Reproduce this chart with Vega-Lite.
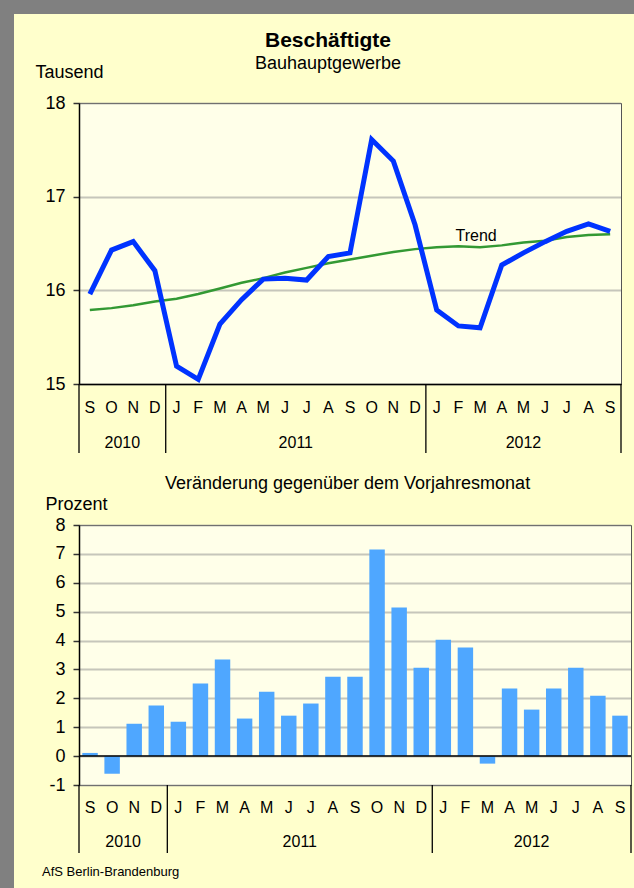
{
  "$schema": "https://vega.github.io/schema/vega-lite/v6.json",
  "background": "#FFFFCC",
  "padding": 0,
  "columns": 3,
  "spacing": 0,
  "bounds": "flush",
  "align": {"row": "each", "column": "none"},
  "datasets": {
    "months": [
      {"m": "2010-09", "lbl": "S", "besch": 15.96, "trend": 15.79, "veraend": 0.11},
      {"m": "2010-10", "lbl": "O", "besch": 16.43, "trend": 15.81, "veraend": -0.61},
      {"m": "2010-11", "lbl": "N", "besch": 16.52, "trend": 15.84, "veraend": 1.12},
      {"m": "2010-12", "lbl": "D", "besch": 16.21, "trend": 15.88, "veraend": 1.75},
      {"m": "2011-01", "lbl": "J", "besch": 15.19, "trend": 15.91, "veraend": 1.19},
      {"m": "2011-02", "lbl": "F", "besch": 15.05, "trend": 15.96, "veraend": 2.51},
      {"m": "2011-03", "lbl": "M", "besch": 15.64, "trend": 16.02, "veraend": 3.34},
      {"m": "2011-04", "lbl": "A", "besch": 15.90, "trend": 16.08, "veraend": 1.30},
      {"m": "2011-05", "lbl": "M", "besch": 16.12, "trend": 16.13, "veraend": 2.23},
      {"m": "2011-06", "lbl": "J", "besch": 16.13, "trend": 16.19, "veraend": 1.40},
      {"m": "2011-07", "lbl": "J", "besch": 16.11, "trend": 16.24, "veraend": 1.82},
      {"m": "2011-08", "lbl": "A", "besch": 16.36, "trend": 16.29, "veraend": 2.75},
      {"m": "2011-09", "lbl": "S", "besch": 16.40, "trend": 16.33, "veraend": 2.75},
      {"m": "2011-10", "lbl": "O", "besch": 17.61, "trend": 16.37, "veraend": 7.15},
      {"m": "2011-11", "lbl": "N", "besch": 17.38, "trend": 16.41, "veraend": 5.14},
      {"m": "2011-12", "lbl": "D", "besch": 16.70, "trend": 16.44, "veraend": 3.06},
      {"m": "2012-01", "lbl": "J", "besch": 15.79, "trend": 16.46, "veraend": 4.03},
      {"m": "2012-02", "lbl": "F", "besch": 15.62, "trend": 16.47, "veraend": 3.76},
      {"m": "2012-03", "lbl": "M", "besch": 15.60, "trend": 16.46, "veraend": -0.26},
      {"m": "2012-04", "lbl": "A", "besch": 16.27, "trend": 16.48, "veraend": 2.34},
      {"m": "2012-05", "lbl": "M", "besch": 16.40, "trend": 16.51, "veraend": 1.61},
      {"m": "2012-06", "lbl": "J", "besch": 16.52, "trend": 16.53, "veraend": 2.34},
      {"m": "2012-07", "lbl": "J", "besch": 16.63, "trend": 16.57, "veraend": 3.06},
      {"m": "2012-08", "lbl": "A", "besch": 16.71, "trend": 16.59, "veraend": 2.09},
      {"m": "2012-09", "lbl": "S", "besch": 16.63, "trend": 16.60, "veraend": 1.40}
    ],
    "years2": [
      {"jahr": "2010", "at": "2010-10"},
      {"jahr": "2011", "at": "2011-06"}
    ],
    "years1": [
      {"jahr": "2012", "at": "2012-05"}
    ],
    "sepLeft": [
      {"at": "2010-09"}, {"at": "2011-01"}, {"at": "2012-01"}
    ],
    "sepRight": [
      {"at": "2012-09"}
    ]
  },
  "config": {
    "font": "Liberation Sans",
    "view": {"stroke": null},
    "title": {"color": "black", "subtitleColor": "black", "font": "Liberation Sans", "subtitleFont": "Liberation Sans"},
    "axis": {
      "labelFont": "Liberation Sans", "titleFont": "Liberation Sans",
      "labelColor": "black", "titleColor": "black",
      "labelFontSize": 18, "titleFontSize": 18, "titleFontWeight": "normal",
      "labelOverlap": false,
      "domainColor": "black", "domainWidth": 1.5,
      "tickColor": "#333333", "tickWidth": 1.5, "tickSize": 6, "labelPadding": 8,
      "gridColor": "#8C8C8C", "gridDash": [1, 1], "gridWidth": 2
    }
  },
  "concat": [
    {"width": 14, "height": 14, "data": {"values": []}, "mark": "rule", "encoding": {}, "view": {"fill": "#808080", "stroke": null}},
    {"width": 65, "height": 14, "data": {"values": []}, "mark": "rule", "encoding": {}, "view": {"fill": "#808080", "stroke": null}},
    {"width": 555, "height": 14, "data": {"values": []}, "mark": "rule", "encoding": {}, "view": {"fill": "#808080", "stroke": null}},

    {"width": 14, "height": 89, "data": {"values": []}, "mark": "rule", "encoding": {}, "view": {"fill": "#808080", "stroke": null}},
    {"width": 65, "height": 89, "data": {"values": []}, "mark": "rule", "encoding": {}, "view": {"stroke": null}},
    {"width": 542, "height": 89, "data": {"values": []}, "mark": "rule", "encoding": {}, "view": {"stroke": null}},

    {"width": 14, "height": 281, "data": {"values": []}, "mark": "rule", "encoding": {}, "view": {"fill": "#808080", "stroke": null}},
    {"width": 65, "height": 281, "data": {"values": []}, "mark": "rule", "encoding": {}, "view": {"stroke": null}},
    {
      "width": 542, "height": 281,
      "view": {"fill": "#FFFFE9", "stroke": "#555555", "strokeWidth": 1},
      "title": {"text": "Beschäftigte", "subtitle": "Bauhauptgewerbe", "anchor": "middle", "frame": "group", "dx": -22, "offset": -10, "fontSize": 21, "fontWeight": "bold", "subtitleFontSize": 18, "subtitlePadding": 4},
      "data": {"name": "months"},
      "encoding": {
        "x": {"field": "m", "type": "nominal", "bandPosition": 0.5,
              "scale": {"type": "band", "paddingInner": 0, "paddingOuter": 0},
              "axis": {"labels": false, "ticks": false, "title": null, "grid": false}}
      },
      "layer": [
        {"mark": {"type": "line", "color": "#339933", "strokeWidth": 2.5},
         "encoding": {"y": {"field": "trend", "type": "quantitative",
           "scale": {"domain": [15, 18], "zero": false, "nice": false},
           "axis": {"values": [15, 16, 17, 18], "labelExpr": "'' + datum.value", "title": "Tausend", "titleAngle": 0, "titleAlign": "left", "titleBaseline": "alphabetic", "titleX": -44, "titleY": -26}}}},
        {"mark": {"type": "line", "color": "#0033FF", "strokeWidth": 5},
         "encoding": {"y": {"field": "besch", "type": "quantitative",
           "scale": {"domain": [15, 18], "zero": false, "nice": false},
           "axis": {"values": [15, 16, 17, 18], "labelExpr": "'' + datum.value", "title": "Tausend", "titleAngle": 0, "titleAlign": "left", "titleBaseline": "alphabetic", "titleX": -44, "titleY": -26}}}},
        {"data": {"values": [{"t": "Trend", "m": "2012-03", "v": 16.53}]},
         "mark": {"type": "text", "fontSize": 16, "baseline": "alphabetic", "align": "center", "dx": -4, "color": "black"},
         "encoding": {"y": {"field": "v", "type": "quantitative",
           "scale": {"domain": [15, 18], "zero": false, "nice": false},
           "axis": {"values": [15, 16, 17, 18], "labelExpr": "'' + datum.value", "title": "Tausend", "titleAngle": 0, "titleAlign": "left", "titleBaseline": "alphabetic", "titleX": -44, "titleY": -26}}, "text": {"field": "t"}}}
      ]
    },

    {"width": 14, "height": 69, "data": {"values": []}, "mark": "rule", "encoding": {}, "view": {"fill": "#808080", "stroke": null}},
    {"width": 65, "height": 69, "data": {"values": []}, "mark": "rule", "encoding": {}, "view": {"stroke": null}},
    {
      "width": 542, "height": 69,
      "view": {"stroke": null},
      "title": {"text": "Veränderung gegenüber dem Vorjahresmonat", "orient": "bottom", "anchor": "middle", "frame": "group", "dx": -2.5, "offset": 21, "fontSize": 18, "fontWeight": "normal"},
      "layer": [
        {"data": {"name": "months"},
         "mark": {"type": "text", "fontSize": 16, "baseline": "middle", "dy": 7, "color": "black"},
         "encoding": {
           "x": {"field": "m", "type": "nominal", "bandPosition": 0.5, "scale": {"type": "band", "paddingInner": 0, "paddingOuter": 0}, "axis": null},
           "y": {"datum": "Monat", "type": "nominal", "bandPosition": 0.5, "scale": {"type": "band", "domain": ["Monat", "Jahr"], "paddingInner": 0, "paddingOuter": 0}, "axis": null},
           "text": {"field": "lbl"}}},
        {"data": {"name": "years2"},
         "mark": {"type": "text", "fontSize": 16, "baseline": "middle", "dy": 7, "color": "black"},
         "encoding": {
           "x": {"field": "at", "type": "nominal", "bandPosition": 1},
           "y": {"datum": "Jahr", "type": "nominal", "bandPosition": 0.5},
           "text": {"field": "jahr"}}},
        {"data": {"name": "years1"},
         "mark": {"type": "text", "fontSize": 16, "baseline": "middle", "dy": 7, "color": "black"},
         "encoding": {
           "x": {"field": "at", "type": "nominal", "bandPosition": 0.5},
           "y": {"datum": "Jahr", "type": "nominal", "bandPosition": 0.5},
           "text": {"field": "jahr"}}},
        {"data": {"name": "sepLeft"},
         "mark": {"type": "rule", "color": "black", "strokeWidth": 1.3},
         "encoding": {"x": {"field": "at", "type": "nominal", "bandPosition": 0}}},
        {"data": {"name": "sepRight"},
         "mark": {"type": "rule", "color": "black", "strokeWidth": 1.3},
         "encoding": {"x": {"field": "at", "type": "nominal", "bandPosition": 1}}}
      ]
    },

    {"width": 14, "height": 72, "data": {"values": []}, "mark": "rule", "encoding": {}, "view": {"fill": "#808080", "stroke": null}},
    {"width": 55, "height": 72, "data": {"values": []}, "mark": "rule", "encoding": {}, "view": {"stroke": null}},
    {"width": 552, "height": 72, "data": {"values": []}, "mark": "rule", "encoding": {}, "view": {"stroke": null}},

    {"width": 14, "height": 260, "data": {"values": []}, "mark": "rule", "encoding": {}, "view": {"fill": "#808080", "stroke": null}},
    {"width": 55, "height": 260, "data": {"values": []}, "mark": "rule", "encoding": {}, "view": {"stroke": null}},
    {
      "width": 552, "height": 260,
      "view": {"fill": "#FFFFE9", "stroke": "#555555", "strokeWidth": 1},
      "layer": [
        {"data": {"name": "months"},
         "mark": {"type": "bar", "color": "#4FA7FF"},
         "encoding": {
           "x": {"field": "m", "type": "nominal", "scale": {"type": "band", "paddingInner": 0.3, "paddingOuter": 0.15}, "axis": null},
           "y": {"field": "veraend", "type": "quantitative",
             "scale": {"domain": [-1, 8], "nice": false},
             "axis": {"values": [-1, 0, 1, 2, 3, 4, 5, 6, 7, 8], "labelExpr": "'' + datum.value", "title": "Prozent", "titleAngle": 0, "titleAlign": "left", "titleBaseline": "alphabetic", "titleX": -34, "titleY": -16}}}},
        {"data": {"values": [{}]},
         "mark": {"type": "rule", "color": "black", "strokeWidth": 1.5},
         "encoding": {"y": {"datum": 0, "type": "quantitative",
             "scale": {"domain": [-1, 8], "nice": false},
             "axis": {"values": [-1, 0, 1, 2, 3, 4, 5, 6, 7, 8], "labelExpr": "'' + datum.value", "title": "Prozent", "titleAngle": 0, "titleAlign": "left", "titleBaseline": "alphabetic", "titleX": -34, "titleY": -16}}}}
      ]
    },

    {"width": 14, "height": 68, "data": {"values": []}, "mark": "rule", "encoding": {}, "view": {"fill": "#808080", "stroke": null}},
    {"width": 55, "height": 68, "data": {"values": []}, "mark": "rule", "encoding": {}, "view": {"stroke": null}},
    {
      "width": 552, "height": 68,
      "view": {"stroke": null},
      "title": {"text": "AfS Berlin-Brandenburg", "orient": "bottom", "anchor": "start", "frame": "group", "dx": -37, "offset": 12, "fontSize": 13, "fontWeight": "normal"},
      "layer": [
        {"data": {"name": "months"},
         "mark": {"type": "text", "fontSize": 16, "baseline": "middle", "dy": 6, "color": "black"},
         "encoding": {
           "x": {"field": "m", "type": "nominal", "bandPosition": 0.5, "scale": {"type": "band", "paddingInner": 0, "paddingOuter": 0}, "axis": null},
           "y": {"datum": "Monat", "type": "nominal", "bandPosition": 0.5, "scale": {"type": "band", "domain": ["Monat", "Jahr"], "paddingInner": 0, "paddingOuter": 0}, "axis": null},
           "text": {"field": "lbl"}}},
        {"data": {"name": "years2"},
         "mark": {"type": "text", "fontSize": 16, "baseline": "middle", "dy": 6, "color": "black"},
         "encoding": {
           "x": {"field": "at", "type": "nominal", "bandPosition": 1},
           "y": {"datum": "Jahr", "type": "nominal", "bandPosition": 0.5},
           "text": {"field": "jahr"}}},
        {"data": {"name": "years1"},
         "mark": {"type": "text", "fontSize": 16, "baseline": "middle", "dy": 6, "color": "black"},
         "encoding": {
           "x": {"field": "at", "type": "nominal", "bandPosition": 0.5},
           "y": {"datum": "Jahr", "type": "nominal", "bandPosition": 0.5},
           "text": {"field": "jahr"}}},
        {"data": {"name": "sepLeft"},
         "mark": {"type": "rule", "color": "black", "strokeWidth": 1.3},
         "encoding": {"x": {"field": "at", "type": "nominal", "bandPosition": 0}}},
        {"data": {"name": "sepRight"},
         "mark": {"type": "rule", "color": "black", "strokeWidth": 1.3},
         "encoding": {"x": {"field": "at", "type": "nominal", "bandPosition": 1}}}
      ]
    },

    {"width": 14, "height": 35, "data": {"values": []}, "mark": "rule", "encoding": {}, "view": {"fill": "#808080", "stroke": null}},
    {"width": 55, "height": 35, "data": {"values": []}, "mark": "rule", "encoding": {}, "view": {"stroke": null}},
    {"width": 565, "height": 35, "data": {"values": []}, "mark": "rule", "encoding": {}, "view": {"stroke": null}}
  ]
}
